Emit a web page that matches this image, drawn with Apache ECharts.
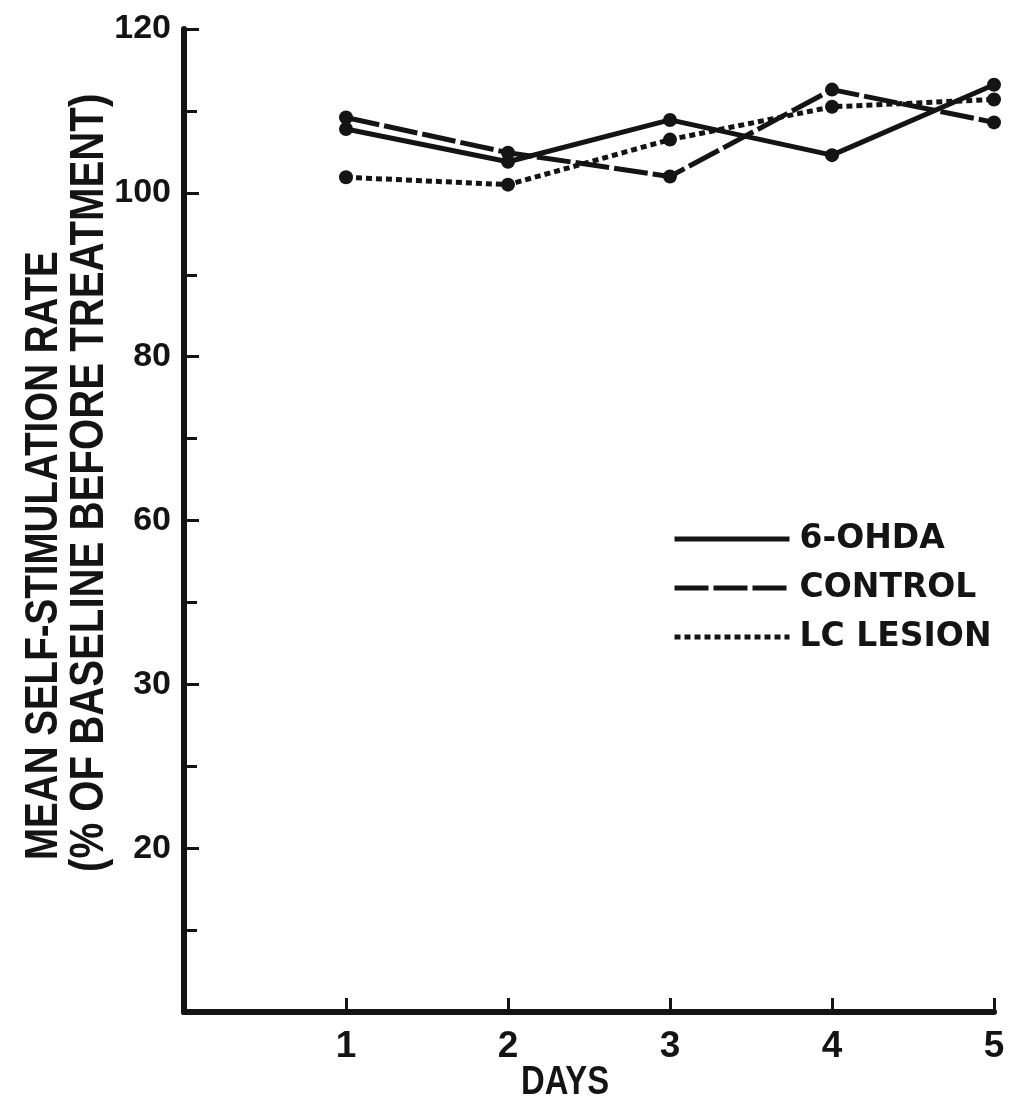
<!DOCTYPE html>
<html>
<head>
<meta charset="utf-8">
<script src="https://cdn.jsdelivr.net/npm/echarts@6/dist/echarts.min.js"></script>
<style>
  html, body { margin: 0; padding: 0; background: #fff; }
  #chart { width: 1013px; height: 1110px; }
</style>
</head>
<body>
<div id="chart"></div>
<script>
var days = [1, 2, 3, 4, 5];
var ohda = [107.8, 103.8, 108.9, 104.6, 113.2];
var control = [109.2, 104.9, 102.0, 112.6, 108.6];
var lcLesion = [101.9, 101.0, 106.5, 110.5, 111.4];
// printed y labels (axis is broken below 100, labels are not evenly spaced in value)
var yTickLabels = ['', '20', '30', '60', '80', '100', '120'];
var sans = '"Liberation Sans", Arial, sans-serif';
var ink = '#141414';

function pairs(vals) {
  return days.map(function (d, i) { return [d, vals[i]]; });
}

var myChart = echarts.init(document.getElementById('chart'));
var option = {
  backgroundColor: '#fff',
  animation: false,
  grid: { left: 184, right: 19, top: 29, bottom: 98 },
  legend: {
    orient: 'vertical',
    left: 672,
    top: 520,
    padding: 0,
    itemWidth: 115,
    itemHeight: 20,
    itemGap: 11,
    itemStyle: { opacity: 0 },
    lineStyle: { width: 5 },
    textStyle: {
      color: ink, fontSize: 33, fontWeight: 'bold', lineHeight: 38,
      fontFamily: '"DejaVu Sans", sans-serif', padding: [0, 0, 0, 5]
    },
    data: ['6-OHDA', 'CONTROL', 'LC LESION']
  },
  xAxis: {
    type: 'value',
    min: 0, max: 5, interval: 1,
    axisLine: { lineStyle: { color: ink, width: 6 } },
    axisTick: { inside: true, length: 14, lineStyle: { color: ink, width: 3 } },
    splitLine: { show: false },
    axisLabel: {
      color: ink, fontSize: 37, fontWeight: 'bold', fontFamily: sans, margin: 16,
      formatter: function (v) { return v === 0 ? '' : String(v); }
    }
  },
  yAxis: {
    type: 'value',
    min: 0, max: 120, interval: 20,
    axisLine: { show: true, lineStyle: { color: ink, width: 6 } },
    axisTick: { inside: true, length: 15, lineStyle: { color: ink, width: 3 } },
    minorTick: { show: true, splitNumber: 2, length: 13, lineStyle: { color: ink, width: 3 } },
    splitLine: { show: false },
    axisLabel: {
      color: ink, fontSize: 34, fontWeight: 'bold', fontFamily: sans, margin: 13,
      formatter: function (v) { return yTickLabels[Math.round(v / 20)]; }
    }
  },
  series: [
    {
      name: '6-OHDA', type: 'line', data: pairs(ohda),
      symbol: 'circle', symbolSize: 14,
      itemStyle: { color: ink },
      lineStyle: { color: ink, width: 5, type: 'solid' }
    },
    {
      name: 'CONTROL', type: 'line', data: pairs(control),
      symbol: 'circle', symbolSize: 14,
      itemStyle: { color: ink },
      lineStyle: { color: ink, width: 5, type: [34, 5] }
    },
    {
      name: 'LC LESION', type: 'line', data: pairs(lcLesion),
      symbol: 'circle', symbolSize: 14,
      itemStyle: { color: ink },
      lineStyle: { color: ink, width: 5, type: [6, 4] }
    }
  ],
  graphic: [
    {
      type: 'text', x: 44, y: 860, rotation: Math.PI / 2, scaleX: 0.82,
      style: {
        text: 'MEAN SELF-STIMULATION RATE', fill: ink,
        font: 'bold 47px ' + sans, textAlign: 'left', textVerticalAlign: 'middle'
      }
    },
    {
      type: 'text', x: 89, y: 872, rotation: Math.PI / 2, scaleX: 0.82,
      style: {
        text: '(% OF BASELINE BEFORE TREATMENT)', fill: ink,
        font: 'bold 49px ' + sans, textAlign: 'left', textVerticalAlign: 'middle'
      }
    },
    {
      type: 'text', x: 565, y: 1083, scaleX: 0.82,
      style: {
        text: 'DAYS', fill: ink,
        font: 'bold 40px ' + sans, textAlign: 'center', textVerticalAlign: 'middle'
      }
    }
  ]
};
myChart.setOption(option);
</script>
</body>
</html>
